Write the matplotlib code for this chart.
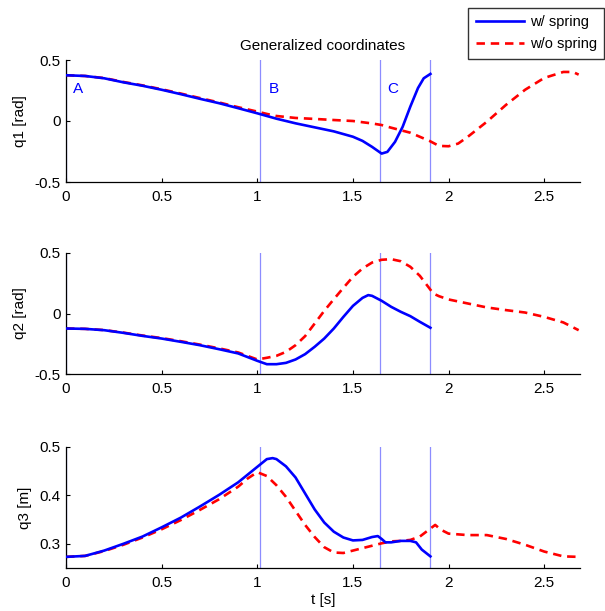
import matplotlib
matplotlib.use("Agg")
import matplotlib.pyplot as plt

plt.rcParams['font.family'] = ['Liberation Sans', 'DejaVu Sans']
plt.rcParams['font.size'] = 11

# ---- data ----
events = [0.0, 1.014, 1.64, 1.905]
event_labels = ["A", "B", "C"]
event_label_t = [0.035, 1.06, 1.68]

t1_spring = [0.0, 0.1, 0.2, 0.3, 0.4, 0.5, 0.6, 0.7, 0.8, 0.9, 1.0, 1.1, 1.2, 1.3, 1.4, 1.5,
             1.55, 1.6, 1.65, 1.68, 1.72, 1.76, 1.80, 1.84, 1.87, 1.905]
q1_spring = [0.375, 0.369, 0.35, 0.317, 0.289, 0.256, 0.22, 0.182, 0.146, 0.105, 0.063, 0.019,
             -0.019, -0.052, -0.085, -0.129, -0.163, -0.212, -0.267, -0.253, -0.171, -0.047,
             0.118, 0.27, 0.35, 0.386]
t1_nospring = [0.0, 0.1, 0.2, 0.3, 0.4, 0.5, 0.6, 0.7, 0.8, 0.9, 1.0, 1.05, 1.1, 1.2, 1.3, 1.4,
               1.5, 1.6, 1.65, 1.7, 1.8, 1.9, 1.95, 2.0, 2.05, 2.1, 2.2, 2.3, 2.4, 2.5, 2.6,
               2.65, 2.68]
q1_nospring = [0.375, 0.369, 0.352, 0.32, 0.292, 0.26, 0.225, 0.188, 0.152, 0.113, 0.077, 0.058,
               0.041, 0.025, 0.017, 0.008, 0.0, -0.02, -0.033, -0.055, -0.096, -0.163, -0.204,
               -0.207, -0.185, -0.13, -0.006, 0.132, 0.256, 0.353, 0.402, 0.402, 0.38]

t2_spring = [0.0, 0.1, 0.2, 0.3, 0.4, 0.5, 0.6, 0.7, 0.8, 0.9, 1.0, 1.05, 1.1, 1.15, 1.2, 1.25,
             1.3, 1.35, 1.4, 1.45, 1.5, 1.55, 1.58, 1.6, 1.65, 1.7, 1.75, 1.8, 1.85, 1.905]
q2_spring = [-0.124, -0.127, -0.138, -0.16, -0.185, -0.207, -0.234, -0.262, -0.295, -0.33,
             -0.391, -0.419, -0.419, -0.408, -0.38, -0.336, -0.275, -0.207, -0.124, -0.028,
             0.063, 0.129, 0.152, 0.146, 0.105, 0.055, 0.014, -0.022, -0.069, -0.118]
t2_nospring = [0.0, 0.1, 0.2, 0.3, 0.4, 0.5, 0.6, 0.7, 0.8, 0.9, 1.0, 1.05, 1.1, 1.15, 1.2, 1.25,
               1.3, 1.35, 1.4, 1.45, 1.5, 1.55, 1.6, 1.65, 1.7, 1.75, 1.8, 1.85, 1.9, 1.92,
               1.95, 2.0, 2.1, 2.2, 2.3, 2.4, 2.5, 2.6, 2.68]
q2_nospring = [-0.124, -0.127, -0.137, -0.158, -0.182, -0.203, -0.229, -0.257, -0.288, -0.322,
               -0.38, -0.366, -0.35, -0.317, -0.262, -0.187, -0.083, 0.022, 0.118, 0.212, 0.303,
               0.372, 0.421, 0.444, 0.449, 0.432, 0.386, 0.311, 0.207, 0.165, 0.143, 0.116,
               0.083, 0.05, 0.028, 0.008, -0.028, -0.074, -0.138]

t3_spring = [0.0, 0.1, 0.2, 0.3, 0.4, 0.5, 0.6, 0.7, 0.8, 0.9, 1.0, 1.05, 1.08, 1.1, 1.15, 1.2,
             1.25, 1.3, 1.35, 1.4, 1.45, 1.5, 1.55, 1.6, 1.63, 1.65, 1.67, 1.7, 1.75, 1.8, 1.83,
             1.86, 1.905]
q3_spring = [0.273, 0.275, 0.286, 0.30, 0.315, 0.334, 0.354, 0.377, 0.401, 0.427, 0.459, 0.475,
             0.477, 0.475, 0.46, 0.437, 0.404, 0.371, 0.344, 0.325, 0.313, 0.307, 0.308, 0.314,
             0.316, 0.31, 0.303, 0.303, 0.306, 0.306, 0.303, 0.288, 0.274]
t3_nospring = [0.0, 0.1, 0.2, 0.3, 0.4, 0.5, 0.6, 0.7, 0.8, 0.9, 0.95, 1.0, 1.05, 1.1, 1.15, 1.2,
               1.25, 1.3, 1.35, 1.4, 1.45, 1.5, 1.55, 1.6, 1.65, 1.7, 1.75, 1.8, 1.85, 1.9, 1.93,
               1.96, 2.0, 2.1, 2.2, 2.3, 2.4, 2.5, 2.6, 2.68]
q3_nospring = [0.273, 0.275, 0.285, 0.298, 0.313, 0.33, 0.349, 0.37, 0.392, 0.418, 0.435, 0.448,
               0.44, 0.421, 0.397, 0.368, 0.339, 0.314, 0.293, 0.282, 0.281, 0.286, 0.291, 0.296,
               0.301, 0.305, 0.306, 0.308, 0.315, 0.33, 0.339, 0.329, 0.321, 0.318, 0.318, 0.31,
               0.298, 0.284, 0.274, 0.273]

ylabels = ["q1 [rad]", "q2 [rad]", "q3 [m]"]
ylims = [(-0.5, 0.5), (-0.5, 0.5), (0.25, 0.5)]
yticks = [[-0.5, 0, 0.5], [-0.5, 0, 0.5], [0.3, 0.4, 0.5]]
yticklabels = [["-0.5", "0", "0.5"], ["-0.5", "0", "0.5"], ["0.3", "0.4", "0.5"]]
xticks = [0, 0.5, 1, 1.5, 2, 2.5]
xticklabels = ["0", "0.5", "1", "1.5", "2", "2.5"]
xlim = (0, 2.687)

series = [(t1_spring, q1_spring, t1_nospring, q1_nospring),
          (t2_spring, q2_spring, t2_nospring, q2_nospring),
          (t3_spring, q3_spring, t3_nospring, q3_nospring)]

W, H = 605, 611
fig = plt.figure(figsize=(W / 100, H / 100), dpi=100)

# axes boxes in pixels: (left, top, right, bottom)
boxes = [(66, 60, 580, 182), (66, 253, 580, 374), (66, 447, 580, 568)]

axes = []
for i, (l, t, r, b) in enumerate(boxes):
    ax = fig.add_axes([l / W, 1 - b / H, (r - l) / W, (b - t) / H])
    axes.append(ax)
    ts, qs, tn, qn = series[i]
    for ev in events:
        ax.axvline(ev, color="#8c8cff", lw=0.9, zorder=1)
    l1, = ax.plot(ts, qs, color="#0000ff", lw=1.9, zorder=3, label="w/ spring")
    l2, = ax.plot(tn, qn, color="#ff0000", lw=1.9, ls=(0, (3.2, 2.2)), zorder=2,
                  label="w/o spring")
    ax.set_xlim(*xlim)
    ax.set_ylim(*ylims[i])
    ax.set_xticks(xticks)
    ax.set_xticklabels(xticklabels)
    ax.set_yticks(yticks[i])
    ax.set_yticklabels(yticklabels[i])
    ax.spines["top"].set_visible(False)
    ax.spines["right"].set_visible(False)
    for s in ("left", "bottom"):
        ax.spines[s].set_linewidth(0.9)
    ax.tick_params(direction="in", length=3, width=0.8, labelsize=11)
    ax.tick_params(axis="x", pad=6)
    ax.tick_params(axis="y", pad=4)
    ax.set_ylabel(ylabels[i], fontsize=11, labelpad=5)
    ax.patch.set_visible(False)

axes[0].set_title("Generalized coordinates", fontsize=11, pad=7)
for lab, tx in zip(event_labels, event_label_t):
    axes[0].text(tx, 0.26, lab, color="#0000ff", fontsize=11, va="center", ha="left")
axes[2].set_xlabel("t [s]", fontsize=11, labelpad=2)

leg = fig.legend(handles=[l1, l2], loc="upper right",
                 bbox_to_anchor=(604 / W, 1 - 8 / H), frameon=True, fancybox=False,
                 edgecolor="black", fontsize=10.5, handlelength=3.3, borderpad=0.5,
                 labelspacing=0.55, handletextpad=0.4, borderaxespad=0)
leg.get_frame().set_linewidth(1.0)

fig.savefig("out.png", dpi=100)
